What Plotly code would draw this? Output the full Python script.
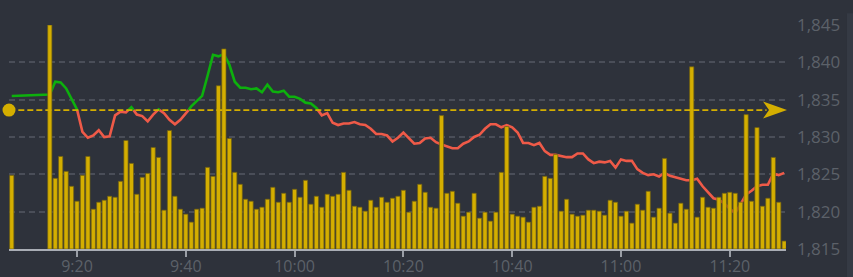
import plotly.graph_objects as go
import pandas as pd

DAY = "2024-01-01 "
# time stamps: one pre-open print, then 1-minute bars 9:15 .. 11:30
times = [DAY + "09:08"] + [DAY + t.strftime("%H:%M") for t in pd.date_range("2024-01-01 09:15", "2024-01-01 11:30", freq="1min")]

volume = [74,
          225, 71, 93, 78, 63, 48, 74, 93, 40, 47,
          49, 53, 52, 68, 109, 86, 55, 72, 76, 102,
          92, 39, 119, 53, 40, 35, 27, 40, 41, 82,
          73, 164, 201, 111, 77, 65, 50, 48, 40, 42,
          50, 62, 47, 56, 47, 60, 52, 69, 45, 53,
          42, 55, 53, 55, 77, 59, 43, 42, 38, 49,
          42, 52, 47, 51, 53, 59, 37, 48, 65, 57,
          42, 41, 134, 56, 58, 46, 33, 37, 56, 31,
          37, 28, 37, 77, 123, 35, 33, 32, 27, 42,
          43, 73, 71, 95, 38, 50, 35, 33, 34, 39,
          39, 38, 34, 49, 47, 33, 38, 26, 45, 39,
          58, 32, 41, 91, 36, 26, 46, 40, 183, 32,
          52, 42, 41, 52, 56, 57, 56, 47, 135, 48,
          122, 43, 51, 92, 47, 8]

price = [1835.5,
         1835.7, 1837.4, 1837.3, 1836.5, 1835.2, 1833.7, 1830.7, 1829.9, 1830.2, 1830.9,
         1830.0, 1830.1, 1832.9, 1833.4, 1833.3, 1834.0, 1833.0, 1832.8, 1832.1, 1833.0,
         1833.7, 1833.2, 1832.3, 1831.7, 1832.3, 1833.1, 1834.1, 1834.8, 1835.5, 1838.2,
         1841.0, 1840.8, 1841.1, 1839.7, 1837.4, 1836.6, 1836.6, 1836.4, 1836.5, 1836.0,
         1837.0, 1836.1, 1836.0, 1836.2, 1835.4, 1835.4, 1835.1, 1834.6, 1834.5, 1833.9,
         1832.9, 1833.2, 1831.9, 1831.6, 1831.8, 1831.8, 1832.0, 1831.7, 1831.6, 1831.1,
         1830.4, 1830.4, 1830.2, 1829.4, 1829.9, 1830.6, 1829.9, 1829.1, 1829.2, 1829.8,
         1829.9, 1829.3, 1829.0, 1828.8, 1828.5, 1828.5, 1829.1, 1829.4, 1830.0, 1830.3,
         1831.1, 1831.7, 1831.7, 1831.3, 1831.6, 1831.3, 1830.6, 1829.2, 1829.2, 1828.9,
         1829.2, 1828.1, 1827.6, 1827.6, 1827.4, 1827.3, 1827.3, 1827.8, 1827.8, 1827.0,
         1826.5, 1826.7, 1826.6, 1826.8, 1825.9, 1827.0, 1826.8, 1826.8, 1825.7, 1825.2,
         1824.9, 1825.0, 1824.7, 1825.2, 1824.8, 1824.6, 1824.3, 1824.2, 1824.2, 1824.4,
         1823.4, 1822.6, 1821.8, 1821.6, 1821.1, 1820.4, 1819.8, 1821.0, 1822.3, 1822.8,
         1823.4, 1823.6, 1823.6, 1825.1, 1824.9, 1825.2]

prev_close = 1833.6
y_ticks = [1815, 1820, 1825, 1830, 1835, 1840, 1845]
x_range = [DAY + "09:07:30", DAY + "11:30:20"]

GREEN = "#0db00d"
RED = "#ef5a48"
GOLD = "#d4ae00"
BG = "#2e323b"
LABEL = "#5c6169"

# split the price line into runs above / below the previous close
t = pd.to_datetime(times)
runs = []
cur_up = price[0] >= prev_close
cur = [(t[0], price[0])]
for i in range(1, len(price)):
    up = price[i] >= prev_close
    if up != cur_up:
        f = (prev_close - price[i - 1]) / (price[i] - price[i - 1])
        tc = t[i - 1] + (t[i] - t[i - 1]) * f
        cur.append((tc, prev_close))
        runs.append((cur_up, cur))
        cur = [(tc, prev_close)]
        cur_up = up
    cur.append((t[i], price[i]))
runs.append((cur_up, cur))

gx, gy, rx, ry = [], [], [], []
for up, pts in runs:
    xs = [p[0] for p in pts]
    ys = [p[1] for p in pts]
    if up:
        gx += xs + [None]; gy += ys + [None]
    else:
        rx += xs + [None]; ry += ys + [None]

fig = go.Figure()
fig.add_trace(go.Bar(x=t, y=volume, yaxis="y2",
                     marker=dict(color=GOLD, line=dict(color="rgba(110,95,20,0.9)", width=0.8)),
                     hoverinfo="skip"))
fig.add_trace(go.Scatter(x=gx, y=gy, mode="lines", line=dict(color=GREEN, width=2.6), hoverinfo="skip"))
fig.add_trace(go.Scatter(x=rx, y=ry, mode="lines", line=dict(color=RED, width=2.6), hoverinfo="skip"))
fig.add_trace(go.Scatter(x=[x_range[0]], y=[prev_close], mode="markers", cliponaxis=False,
                         marker=dict(color=GOLD, size=13), hoverinfo="skip"))

fig.add_shape(type="line", xref="paper", yref="y", x0=0.012, x1=0.975, y0=prev_close, y1=prev_close,
              line=dict(color=GOLD, width=1.8, dash="6px,3px"), layer="above")
fig.add_shape(type="path", xref="paper", yref="y", xsizemode="pixel", ysizemode="pixel",
              xanchor=1, yanchor=prev_close,
              path="M1,0 L-23,8.5 L-17,0 L-23,-8.5 Z", fillcolor=GOLD, line=dict(width=0), layer="above")
fig.add_shape(type="rect", xref="paper", yref="paper", x0=1.0785, x1=1.1, y0=-0.2, y1=1.052,
              fillcolor="#353a44", line=dict(width=0), layer="below")

fig.update_layout(
    width=853, height=277,
    margin=dict(l=9, r=67, t=25, b=28, autoexpand=False),
    paper_bgcolor=BG, plot_bgcolor=BG,
    showlegend=False, bargap=0.22,
    font=dict(family="Open Sans", size=17, color=LABEL),
    xaxis=dict(type="date", range=x_range, tick0=DAY + "09:00", dtick=20 * 60 * 1000,
               tickformat="%-H:%M", showgrid=False, zeroline=False, automargin=False,
               showline=True, linecolor="#a9adb5", linewidth=2,
               ticks="outside", ticklen=6, tickwidth=1.5, tickcolor="#9a9ea6",
               ticklabelstandoff=-4,
               tickfont=dict(family="Open Sans", size=16, color=LABEL)),
    yaxis=dict(side="right", range=[1815, 1845], tickvals=y_ticks, tickformat=",d",
               showgrid=True, gridcolor="#4a4e58", gridwidth=1.5, griddash="6px,4px",
               zeroline=False, showline=False, ticks="", ticklabelstandoff=10, automargin=False,
               tickfont=dict(family="Open Sans", size=17, color=LABEL)),
    yaxis2=dict(overlaying="y", range=[0, 225], visible=False, showgrid=False, automargin=False),
)

fig.write_html("out.html")
